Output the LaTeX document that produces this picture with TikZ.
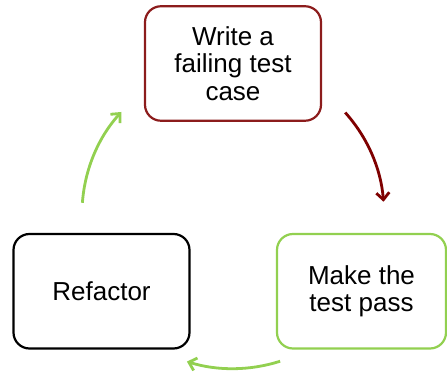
\documentclass[tikz,border=0pt]{standalone}
\usepackage{fontspec}
\setmainfont{Liberation Sans}
\usetikzlibrary{arrows.meta}
\definecolor{Fail Red}{HTML}{8C1C1C}
\definecolor{Arrow Red}{HTML}{7F0000}
\definecolor{Pass Green}{HTML}{92D050}

\begin{document}
\begin{tikzpicture}[x=1pt, y=1pt]
  \tikzstyle{stage}=[rectangle, rounded corners=16pt, line width=2.2pt, align=center, inner sep=0pt,
                     minimum height=114.5pt, font=\fontsize{26}{27.5}\selectfont]
  \tikzstyle{cycle arrow}=[line width=2.8pt, -{Straight Barb[length=7pt,width=13pt]}]

  \useasboundingbox (0,0) rectangle (447,374);

  % Draw the three stages
  \node[stage, draw=Fail Red, minimum width=176pt] (write) at (233,310.5) {Write a\\failing test\\case};
  \node[stage, draw=Pass Green, minimum width=169pt] (pass) at (361.5,82.75) {Make the\\test pass};
  \node[stage, draw=black, minimum width=176pt] (refactor) at (101.5,82.75) {Refactor};

  % Centre of the cycle, the arrows run round it
  \coordinate (cycle) at (233,160.4);

  % Draw the arrows from one stage to the next
  \foreach \name/\start/\stop/\rad/\col in {write-out/42/4.5/151/Arrow Red,
                                           pass-out/-72.3/-107.3/155/Pass Green,
                                           refactor-out/175.9/137.7/151/Pass Green}
  {
      \path (cycle) ++(\start:\rad) coordinate (\name);
      \draw[cycle arrow, color=\col] (\name) arc[start angle=\start, end angle=\stop, radius=\rad];
  }

\end{tikzpicture}
\end{document}
